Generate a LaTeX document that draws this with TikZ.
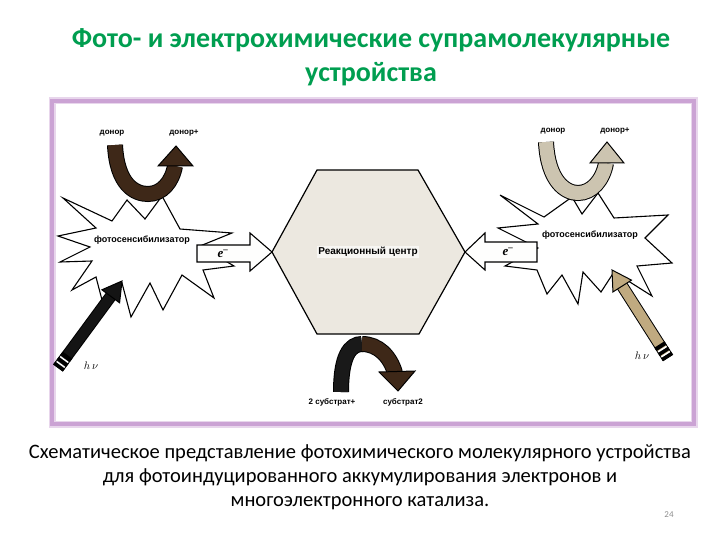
\documentclass[tikz,border=0pt]{standalone}
\usepackage{fontspec}
\setmainfont{Carlito}
\newfontfamily\lblfont{Liberation Sans}
\newfontfamily\efont{Liberation Serif}
\usetikzlibrary{calc}
\definecolor{titlegreen}{RGB}{0,158,80}
\definecolor{framelila}{RGB}{203,163,212}
\definecolor{hexfill}{RGB}{236,232,224}
\definecolor{darkbrown}{RGB}{62,40,24}
\definecolor{lightbeige}{RGB}{204,196,176}
\definecolor{hvbeige}{RGB}{192,170,128}
\tikzset{
  lbl/.style={font=\lblfont\bfseries\fontsize{8}{9}\selectfont, inner sep=0pt},
  burst/.style={draw=black, fill=white, line width=1.1pt, line join=miter},
  band/.style={draw=black, line width=1pt, double distance=14pt},
  arrhead/.style={draw=black, line width=1pt, line join=miter},
  eblock/.style={draw=black, fill=white!94!hexfill, line width=1.1pt, line join=miter},
  elbl/.style={font=\efont\bfseries\itshape\fontsize{13}{13}\selectfont, inner sep=0pt}
}

\begin{document}
\begin{tikzpicture}[x=1pt, y=-1pt]
\useasboundingbox (0,0) rectangle (720,540);
\node[text=titlegreen, font=\bfseries\fontsize{28}{34}\selectfont, align=center] (title) at (371,57)
  {Фото- и электрохимические супрамолекулярные\\устройства};
\draw[framelila!45, line width=7pt] (52,101) rectangle (694,424);
\draw[framelila, line width=3.5pt] (52,101) rectangle (694,424);
% reaction centre
\coordinate (hl) at (272,252);
\coordinate (htl) at (317,170);
\coordinate (htr) at (418,170);
\coordinate (hr) at (465,252);
\coordinate (hbr) at (419,334);
\coordinate (hbl) at (317,334);
\draw[fill=hexfill, line width=1.2pt, line join=miter] (hl) -- (htl) -- (htr) -- (hr) -- (hbr) -- (hbl) -- cycle;
\node[lbl, fill=white!60!hexfill, inner sep=1.5pt, font=\lblfont\bfseries\fontsize{10}{11}\selectfont] (rc) at (368,252) {Реакционный центр};
% photosensitizers
\draw[burst] (63,198) -- (112,221) -- (127,200) -- (145,219) -- (162,196) -- (180,229) -- (232,233) -- (200,246)
  -- (234,266) -- (203,270) -- (214,298) -- (182,275) -- (163,310) -- (150,283) -- (131,317) -- (122,283)
  -- (102,300) -- (96,277) -- (72,290) -- (92,261) -- (60,262) -- (90,247) -- (58,236) -- (96,228) -- cycle;
\draw[burst] (500,195) -- (544,217) -- (572,197) -- (582,214) -- (598,193) -- (614,218) -- (668,215) -- (645,238)
  -- (672,263) -- (637,266) -- (652,296) -- (614,272) -- (601,292) -- (583,272) -- (578,304) -- (562,275)
  -- (547,294) -- (537,270) -- (505,266) -- (538,248) -- (498,228) -- (538,224) -- cycle;
\node[lbl, font=\lblfont\bfseries\fontsize{9}{10}\selectfont] (psL) at (142,240) {фотосенсибилизатор};
\node[lbl, font=\lblfont\bfseries\fontsize{9}{10}\selectfont] (psR) at (590,235) {фотосенсибилизатор};
% electron transfer
\draw[eblock] ($(hl)+(-75,-7)$) -- ($(hl)+(-22,-7)$) -- ($(hl)+(-22,-19)$) -- (hl) -- ($(hl)+(-22,19)$)
  -- ($(hl)+(-22,10)$) -- ($(hl)+(-75,10)$) -- cycle;
\draw[eblock] ($(hr)+(72,-10)$) -- ($(hr)+(20,-10)$) -- ($(hr)+(20,-19)$) -- (hr) -- ($(hr)+(20,18)$)
  -- ($(hr)+(20,10)$) -- ($(hr)+(72,10)$) -- cycle;
\node[elbl] (eL) at (223,254) {e\textsuperscript{–}};
\node[elbl] (eR) at (508,252) {e\textsuperscript{–}};
% donors
\draw[band, double=darkbrown] (115,145) .. controls (117,185) and (135,194) .. (148,194) .. controls (162,194) and (172,182) .. (175,166);
\filldraw[arrhead, fill=darkbrown] (158,166) -- (176,146) -- (193,166) -- cycle;
\draw[band, double=lightbeige] (546,142) .. controls (548,182) and (566,193) .. (578,193) .. controls (592,193) and (603,180) .. (606,163);
\filldraw[arrhead, fill=lightbeige] (590,163) -- (607,142) -- (624,163) -- cycle;
\node[lbl] (dL) at (112,133) {донор};
\node[lbl] (dLp) at (184,133) {донор+};
\node[lbl] (dR) at (553,131) {донор};
\node[lbl] (dRp) at (615,131) {донор+};
% substrate
\draw[band, double=black!90] (341,392) .. controls (341,356) and (350,344) .. (362,344);
\draw[band, double=darkbrown] (362,344) .. controls (378,344) and (390,356) .. (395,373);
\filldraw[arrhead, fill=darkbrown] (379,372) -- (398,391) -- (415,371) -- cycle;
\node[lbl] (s1) at (332,402) {2 субстрат+};
\node[lbl] (s2) at (403,402) {субстрат2};
% light
\coordinate (hvLtail) at (58,368);
\coordinate (hvLtip) at (122,281);
\coordinate (hvRtail) at (668,358);
\coordinate (hvRtip) at (612,270);
\foreach \tl/\tp/\col in {hvLtail/hvLtip/black!92, hvRtail/hvRtip/hvbeige} {
  \coordinate (hb) at ($(\tp)!19pt!(\tl)$);
  \draw[black, line width=12pt] (\tl) -- (hb);
  \draw[\col, line width=10pt] ($(\tl)!1pt!(\tp)$) -- (hb);
  \filldraw[arrhead, fill=\col] ($(hb)!11pt!90:(\tp)$) -- (\tp) -- ($(hb)!11pt!-90:(\tp)$) -- cycle;
  \foreach \d in {0,6,12} {
    \coordinate (st) at ($(\tl)!\d pt!(\tp)$);
    \coordinate (st2) at ($(\tl)!\d pt+4pt!(\tp)$);
    \draw[black, line width=12pt] (st) -- (st2);
  }
  \foreach \d in {4.5,10.5} {
    \coordinate (st) at ($(\tl)!\d pt!(\tp)$);
    \draw[white, line width=1.5pt] ($(st)!5pt!90:(\tp)$) -- ($(st)!5pt!-90:(\tp)$);
  }
}
\node[font=\fontsize{11}{11}\selectfont] (hvL) at (91,366) {$h\,\nu$};
\node[font=\fontsize{11}{11}\selectfont] (hvR) at (642,356) {$h\,\nu$};
% caption
\node[font=\fontsize{20.5}{24}\selectfont, align=center] (cap) at (360,477)
  {Схематическое представление фотохимического молекулярного устройства\\для фотоиндуцированного аккумулирования электронов и\\многоэлектронного катализа.};
\node[text=black!45, font=\fontsize{9}{9}\selectfont] (pg) at (669,515) {24};
\end{tikzpicture}
\end{document}
